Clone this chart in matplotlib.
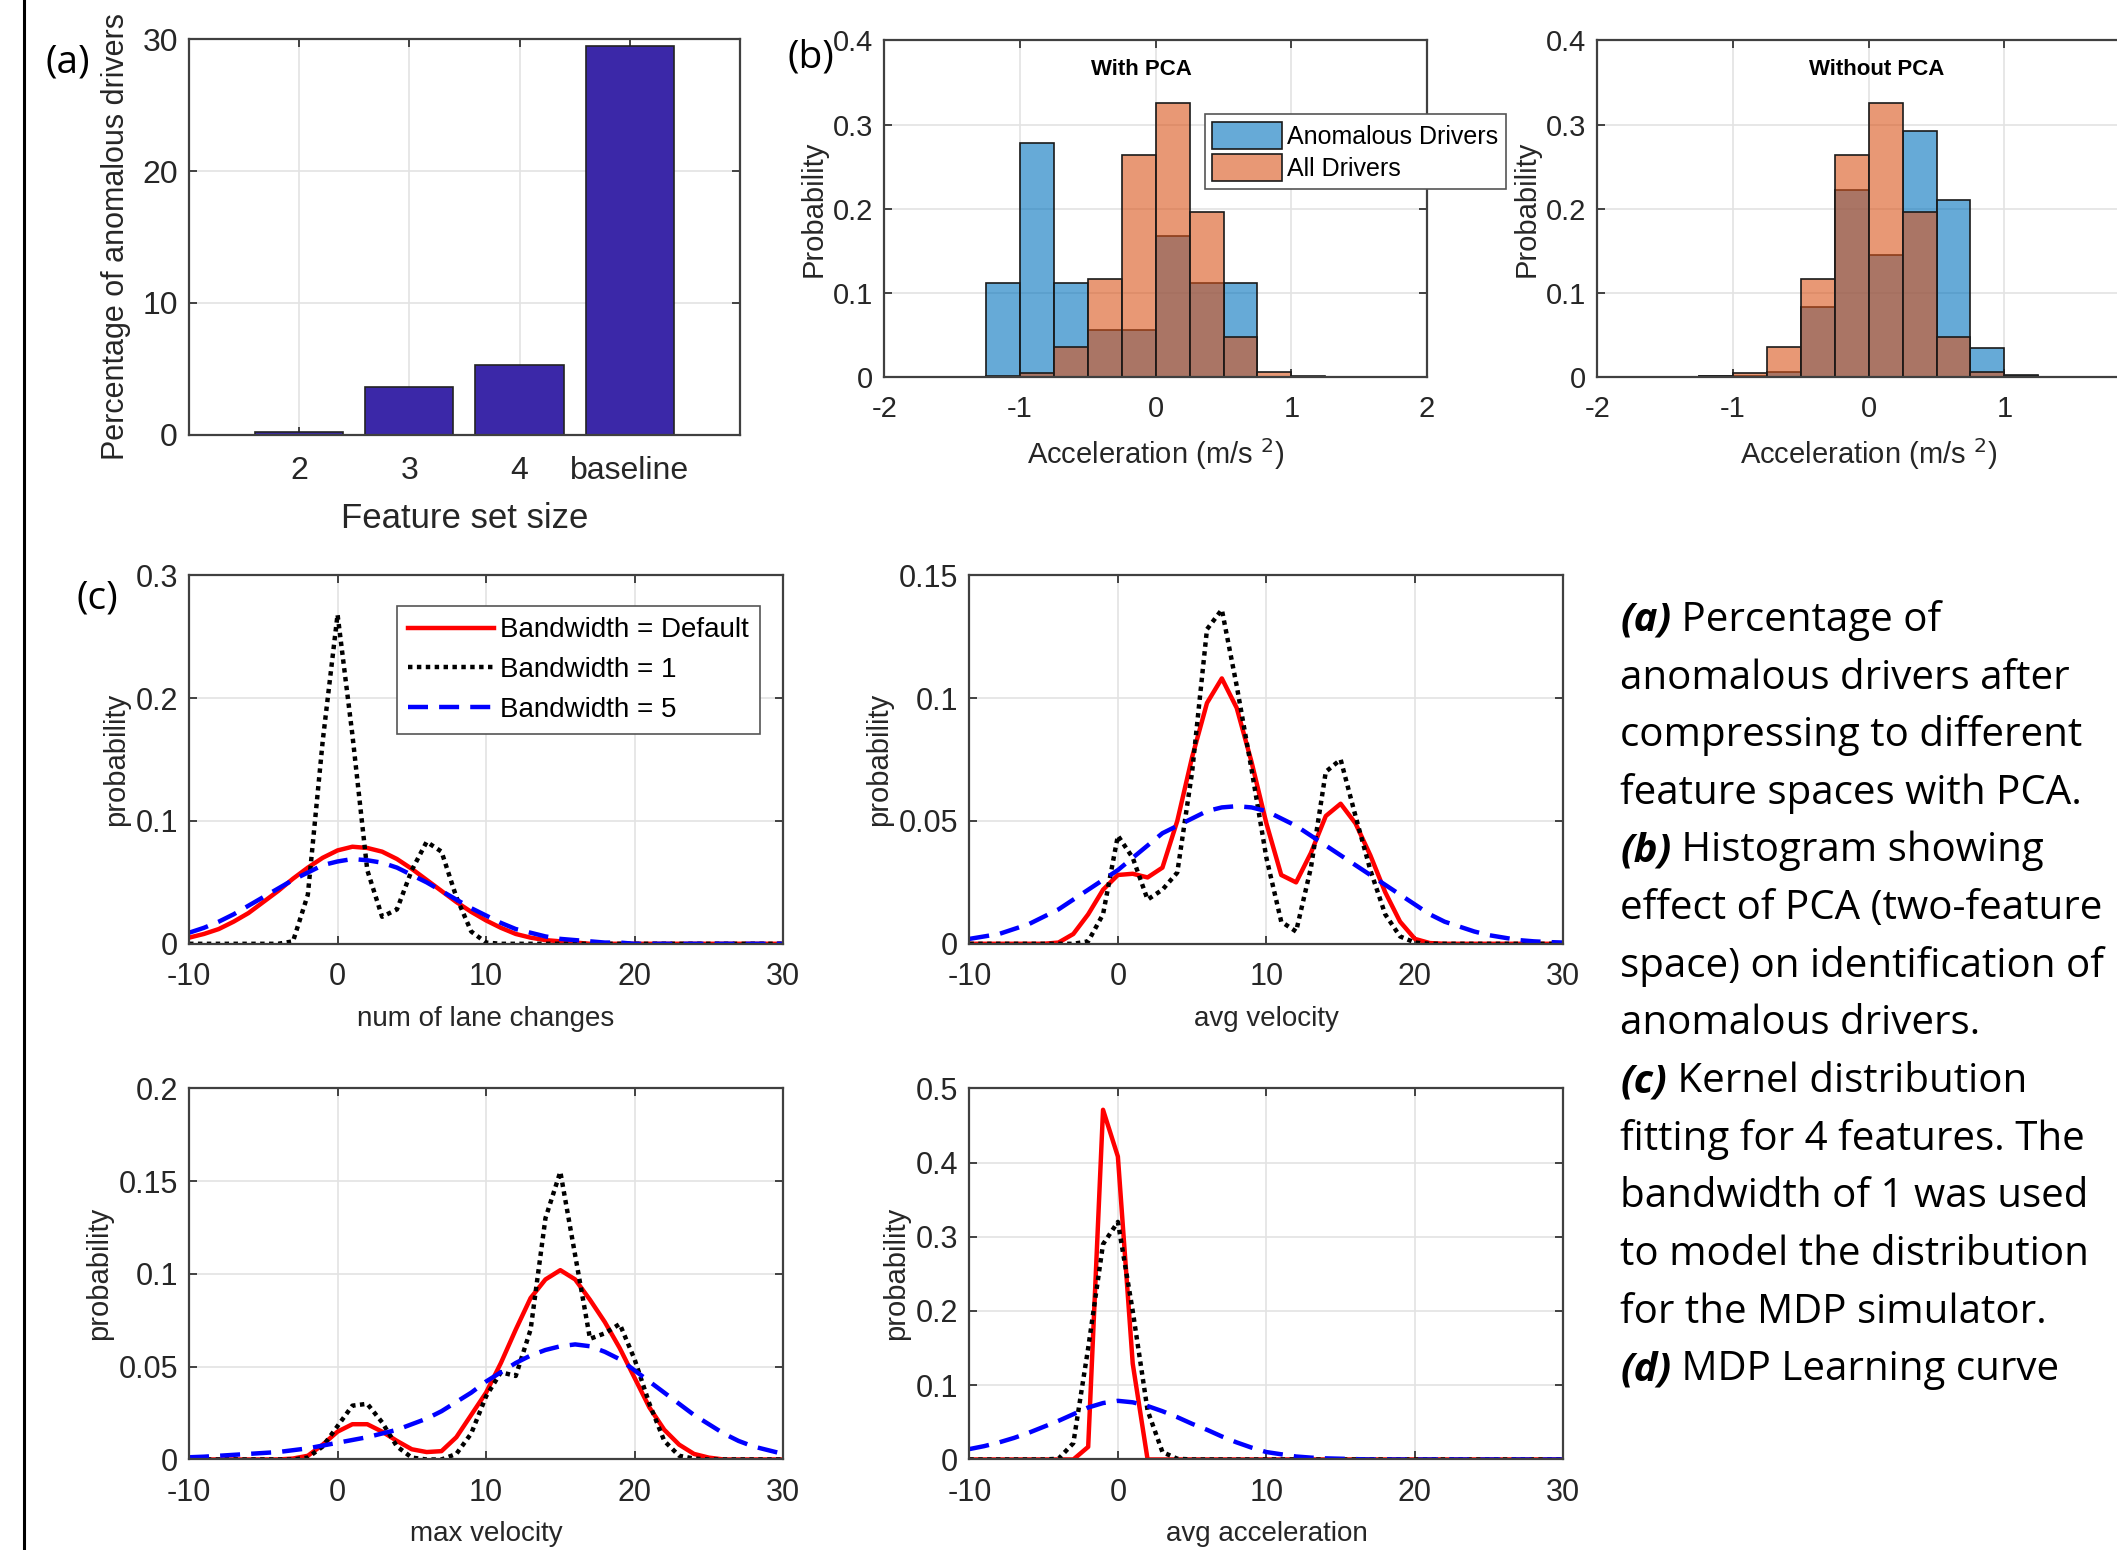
import numpy as np
import matplotlib.pyplot as plt
from matplotlib.lines import Line2D

plt.rcParams['font.family'] = ['Liberation Sans', 'DejaVu Sans']
plt.rcParams['axes.unicode_minus'] = False

# (a) bar chart
feat_labels = ['2', '3', '4', 'baseline']
pct_anom = [0.2, 3.6, 5.3, 29.5]

# (b) histograms, bin left edges (width 0.25)
bin_left = [-1.25, -1.0, -0.75, -0.5, -0.25, 0.0, 0.25, 0.5, 0.75, 1.0]
pca_anom = [0.111, 0.278, 0.111, 0.056, 0.056, 0.167, 0.111, 0.111, 0.0, 0.0]
all_drv = [0.001, 0.004, 0.035, 0.116, 0.264, 0.326, 0.196, 0.047, 0.005, 0.001]
nopca_anom = [0.001, 0.001, 0.005, 0.083, 0.222, 0.145, 0.292, 0.210, 0.034, 0.002]

# (c) kernel fits, evaluated at -10..30
xk = list(range(-10, 31))

lane_def = [0.005, 0.008, 0.012, 0.018, 0.025, 0.034, 0.043, 0.053, 0.062, 0.070,
            0.076, 0.079, 0.078, 0.075, 0.069, 0.061, 0.052, 0.043, 0.034, 0.026,
            0.019, 0.013, 0.008, 0.005, 0.003, 0.002, 0.001, 0, 0, 0,
            0, 0, 0, 0, 0, 0, 0, 0, 0, 0, 0]
lane_bw1 = [0, 0, 0, 0, 0, 0, 0, 0.002, 0.040, 0.165,
            0.268, 0.170, 0.060, 0.022, 0.028, 0.060, 0.083, 0.075, 0.038, 0.010,
            0.001, 0, 0, 0, 0, 0, 0, 0, 0, 0,
            0, 0, 0, 0, 0, 0, 0, 0, 0, 0, 0]
lane_bw5 = [0.009, 0.013, 0.018, 0.024, 0.031, 0.038, 0.045, 0.052, 0.058, 0.064,
            0.067, 0.069, 0.068, 0.066, 0.062, 0.056, 0.050, 0.043, 0.036, 0.029,
            0.023, 0.017, 0.012, 0.009, 0.006, 0.004, 0.003, 0.002, 0.001, 0.001,
            0, 0, 0, 0, 0, 0, 0, 0, 0, 0, 0]

avgv_def = [0, 0, 0, 0, 0, 0, 0.0005, 0.004, 0.012, 0.022,
            0.028, 0.0285, 0.027, 0.031, 0.050, 0.076, 0.098, 0.108, 0.096, 0.074,
            0.049, 0.028, 0.025, 0.037, 0.052, 0.057, 0.049, 0.036, 0.021, 0.009,
            0.002, 0.0003, 0, 0, 0, 0, 0, 0, 0, 0, 0]
avgv_bw1 = [0, 0, 0, 0, 0, 0, 0, 0, 0.001, 0.012,
            0.044, 0.035, 0.018, 0.022, 0.029, 0.070, 0.128, 0.136, 0.105, 0.071,
            0.035, 0.009, 0.005, 0.031, 0.070, 0.075, 0.052, 0.030, 0.012, 0.003,
            0.0005, 0, 0, 0, 0, 0, 0, 0, 0, 0, 0]
avgv_bw5 = [0.002, 0.003, 0.004, 0.006, 0.008, 0.011, 0.014, 0.018, 0.022, 0.026,
            0.030, 0.035, 0.040, 0.045, 0.048, 0.051, 0.054, 0.0555, 0.056, 0.0555,
            0.054, 0.051, 0.048, 0.044, 0.040, 0.036, 0.032, 0.028, 0.024, 0.020,
            0.016, 0.012, 0.009, 0.007, 0.005, 0.0035, 0.0025, 0.0015, 0.001, 0.0007, 0.0005]

maxv_def = [0, 0, 0, 0, 0, 0, 0, 0.0005, 0.002, 0.008,
            0.015, 0.019, 0.019, 0.015, 0.010, 0.0055, 0.004, 0.0045, 0.012, 0.024,
            0.036, 0.052, 0.070, 0.087, 0.097, 0.102, 0.097, 0.086, 0.074, 0.060,
            0.044, 0.028, 0.016, 0.008, 0.003, 0.001, 0, 0, 0, 0, 0]
maxv_bw1 = [0, 0, 0, 0, 0, 0, 0, 0, 0.001, 0.007,
            0.018, 0.029, 0.030, 0.020, 0.007, 0.001, 0, 0, 0.003, 0.014,
            0.034, 0.047, 0.045, 0.070, 0.130, 0.155, 0.110, 0.065, 0.068, 0.073,
            0.054, 0.030, 0.010, 0.002, 0.0005, 0, 0, 0, 0, 0, 0]
maxv_bw5 = [0.0012, 0.0015, 0.002, 0.0025, 0.003, 0.0035, 0.004, 0.005, 0.006, 0.0075,
            0.009, 0.0105, 0.012, 0.014, 0.016, 0.019, 0.022, 0.026, 0.031, 0.036,
            0.042, 0.047, 0.052, 0.056, 0.059, 0.061, 0.062, 0.061, 0.058, 0.054,
            0.048, 0.042, 0.036, 0.030, 0.024, 0.019, 0.014, 0.010, 0.007, 0.005, 0.003]

acc_def = [0, 0, 0, 0, 0, 0, 0, 0, 0.017, 0.471,
           0.408, 0.129, 0, 0, 0, 0, 0, 0, 0, 0,
           0, 0, 0, 0, 0, 0, 0, 0, 0, 0,
           0, 0, 0, 0, 0, 0, 0, 0, 0, 0, 0]
acc_bw1 = [0, 0, 0, 0, 0, 0, 0.001, 0.022, 0.150, 0.290,
           0.320, 0.200, 0.066, 0.010, 0.001, 0, 0, 0, 0, 0,
           0, 0, 0, 0, 0, 0, 0, 0, 0, 0,
           0, 0, 0, 0, 0, 0, 0, 0, 0, 0, 0]
acc_bw5 = [0.014, 0.018, 0.023, 0.029, 0.036, 0.044, 0.052, 0.061, 0.070, 0.076,
           0.079, 0.077, 0.072, 0.065, 0.057, 0.048, 0.040, 0.031, 0.023, 0.016,
           0.010, 0.007, 0.004, 0.0025, 0.0015, 0.001, 0.0005, 0, 0, 0,
           0, 0, 0, 0, 0, 0, 0, 0, 0, 0, 0]

caption = [('(a)', ' Percentage of'), ('', 'anomalous drivers after'),
           ('', 'compressing to different'), ('', 'feature spaces with PCA.'),
           ('(b)', ' Histogram showing'), ('', 'effect of PCA (two-feature'),
           ('', 'space) on identification of'), ('', 'anomalous drivers.'),
           ('(c)', ' Kernel distribution'), ('', 'fitting for 4 features. The'),
           ('', 'bandwidth of 1 was used'), ('', 'to model the distribution'),
           ('', 'for the MDP simulator.'), ('(d)', ' MDP Learning curve')]

TXT = '#262626'
BLUE = (0.0, 0.447, 0.741)
ORANGE = (0.85, 0.325, 0.098)
CAP_FONT = ['Open Sans', 'DejaVu Sans']


def matlab_style(ax, fs, xpad=11):
    ax.grid(True, color='#e3e3e3', linewidth=1.2)
    ax.set_axisbelow(True)
    ax.tick_params(direction='in', top=True, right=True, length=6, width=1.2,
                   labelsize=fs, colors=TXT, pad=8)
    ax.tick_params(axis='x', pad=xpad)
    for s in ax.spines.values():
        s.set_color('#404040')
        s.set_linewidth(1.6)


fig = plt.figure(figsize=(21.17, 15.5), dpi=100)

# ---- (a)
ax = fig.add_axes([0.0893, 0.7195, 0.2602, 0.2552])
ax.bar(range(1, 5), pct_anom, width=0.8, color='#3B28A8', edgecolor='#222222', linewidth=1.2)
ax.set_xlim(0, 5)
ax.set_ylim(0, 30)
ax.set_xticks(range(1, 5))
ax.set_xticklabels(feat_labels)
ax.set_yticks([0, 10, 20, 30])
matlab_style(ax, 23, xpad=15)
ax.set_ylabel('Percentage of anomalous drivers', fontsize=22, color=TXT, labelpad=8)
ax.set_xlabel('Feature set size', fontsize=25, color=TXT, labelpad=12)

# ---- (b) histograms
for i, (anom, title, tx) in enumerate([(pca_anom, 'With PCA', 0.473),
                                       (nopca_anom, 'Without PCA', 0.515)]):
    left = 0.4177 if i == 0 else 0.7545
    ax = fig.add_axes([left, 0.757, 0.2564, 0.2169])
    ax.bar(bin_left, anom, width=0.25, align='edge', facecolor=BLUE + (0.6,),
           edgecolor='#1a1a1a', linewidth=1.2, label='Anomalous Drivers')
    ax.bar(bin_left, all_drv, width=0.25, align='edge', facecolor=ORANGE + (0.6,),
           edgecolor='#1a1a1a', linewidth=1.2, label='All Drivers')
    ax.set_xlim(-2, 2)
    ax.set_ylim(0, 0.4)
    ax.set_xticks([-2, -1, 0, 1, 2])
    ax.set_yticks([0, 0.1, 0.2, 0.3, 0.4])
    ax.set_yticklabels(['0', '0.1', '0.2', '0.3', '0.4'])
    matlab_style(ax, 21, xpad=13)
    ax.set_ylabel('Probability', fontsize=21, color=TXT)
    ax.set_xlabel('Acceleration (m/s $^2$)', fontsize=21, color=TXT, labelpad=10)
    ax.text(tx, 0.915, title, transform=ax.transAxes, ha='center', va='center',
            fontsize=16, fontweight='bold', color='k')
    if i == 0:
        lg = ax.legend(loc='upper left', bbox_to_anchor=(0.59, 0.78), borderaxespad=0,
                       fontsize=18, fancybox=False, framealpha=1, edgecolor='#555555',
                       handlelength=2.8, handleheight=1.3, labelspacing=0.2,
                       handletextpad=0.2, borderpad=0.3)
        lg.get_frame().set_linewidth(1.2)

# ---- (c) kernel fits
kde_panels = [
    ([0.0893, 0.3911, 0.2806, 0.2378], lane_def, lane_bw1, lane_bw5, 0.3,
     [0, 0.1, 0.2, 0.3], ['0', '0.1', '0.2', '0.3'], 'num of lane changes'),
    ([0.4579, 0.3911, 0.2806, 0.2378], avgv_def, avgv_bw1, avgv_bw5, 0.15,
     [0, 0.05, 0.1, 0.15], ['0', '0.05', '0.1', '0.15'], 'avg velocity'),
    ([0.0893, 0.0584, 0.2806, 0.2395], maxv_def, maxv_bw1, maxv_bw5, 0.2,
     [0, 0.05, 0.1, 0.15, 0.2], ['0', '0.05', '0.1', '0.15', '0.2'], 'max velocity'),
    ([0.4579, 0.0584, 0.2806, 0.2395], acc_def, acc_bw1, acc_bw5, 0.5,
     [0, 0.1, 0.2, 0.3, 0.4, 0.5], ['0', '0.1', '0.2', '0.3', '0.4', '0.5'], 'avg acceleration'),
]
for j, (pos, yd, y1, y5, ymax, yt, ytl, xl) in enumerate(kde_panels):
    ax = fig.add_axes(pos)
    ax.plot(xk, yd, color='#ff0000', linewidth=3.2, label='Bandwidth = Default')
    ax.plot(xk, y1, color='k', linestyle=(0, (1, 1)), linewidth=3.2, label='Bandwidth = 1')
    ax.plot(xk, y5, color='#0000ff', linestyle=(0, (4.5, 2.5)), linewidth=3.2, label='Bandwidth = 5')
    ax.set_xlim(-10, 30)
    ax.set_ylim(0, ymax)
    ax.set_xticks([-10, 0, 10, 20, 30])
    ax.set_yticks(yt)
    ax.set_yticklabels(ytl)
    matlab_style(ax, 22, xpad=13)
    ax.set_ylabel('probability', fontsize=21, color=TXT)
    ax.set_xlabel(xl, fontsize=20, color=TXT, labelpad=10)
    if j == 0:
        lg = ax.legend(loc='upper right', bbox_to_anchor=(0.961, 0.916), borderaxespad=0,
                       fontsize=20, fancybox=False, framealpha=1, edgecolor='#555555',
                       handlelength=3.1, labelspacing=0.5, handletextpad=0.2,
                       borderpad=0.4)
        lg.get_frame().set_linewidth(1.2)

# panel letters
for lbl, x, y in [('(a)', 0.032, 0.960), ('(b)', 0.383, 0.963), ('(c)', 0.046, 0.614)]:
    fig.text(x, y, lbl, fontsize=28, family=CAP_FONT, ha='center', va='center', color='k')

# caption block on the right
y0 = 0.593
dy = 0.0372
for k, (head, rest) in enumerate(caption):
    y = y0 - k * dy
    if head == '':
        fig.text(0.7653, y, rest, fontsize=29, family=CAP_FONT, va='baseline', color='k')
        continue
    t = fig.text(0.7653, y, head, fontsize=29, family=CAP_FONT,
                 fontweight='bold', fontstyle='italic', va='baseline', color='k')
    fig.axes[0].annotate(rest, xy=(1, y), xycoords=(t, 'figure fraction'),
                         fontsize=29, family=CAP_FONT, va='baseline', color='k',
                         annotation_clip=False)

# left border line
fig.add_artist(Line2D([0.0115, 0.0115], [0, 1], color='k', linewidth=2.2,
                      transform=fig.transFigure))

fig.savefig('out.png', dpi=100)
